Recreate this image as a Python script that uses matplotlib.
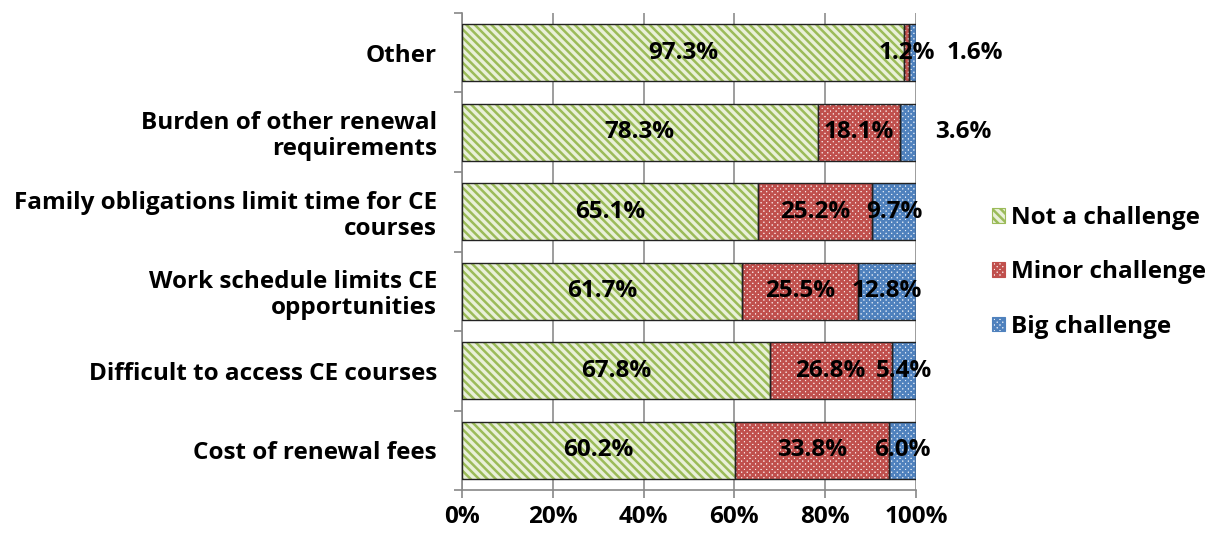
import numpy as np
import matplotlib.pyplot as plt
from matplotlib.patches import Patch

# ==========================
# Data
# ==========================
categories = [
    'Cost of renewal fees',
    'Difficult to access CE courses',
    'Work schedule limits CE\nopportunities',
    'Family obligations limit time for CE\ncourses',
    'Burden of other renewal\nrequirements',
    'Other',
]
not_a_challenge = [60.2, 67.8, 61.7, 65.1, 78.3, 97.3]
minor_challenge = [33.8, 26.8, 25.5, 25.2, 18.1, 1.2]
big_challenge = [6.0, 5.4, 12.8, 9.7, 3.6, 1.6]
series_names = ['Not a challenge', 'Minor challenge', 'Big challenge']
x_ticks = [0, 20, 40, 60, 80, 100]

# label positions moved outside the bar for tiny segments (in % units)
label_override = {(5, 2): 113.0, (4, 2): 110.5}

# ==========================
# Style
# ==========================
plt.rcParams['font.family'] = ['Open Sans', 'DejaVu Sans']
plt.rcParams['font.weight'] = 'bold'
plt.rcParams['hatch.linewidth'] = 1.8

FS = 17.5
face_colors = ['#E9F0D9', '#FBEDED', '#E8EFF8']
hatch_colors = ['#9BBB59', '#C0504D', '#4F81BD']
hatches = ['\\\\\\\\', 'xxxxxx', 'xxxxxx']


def plot_chart():
    fig = plt.figure(figsize=(12.17, 5.38), dpi=100)
    ax = fig.add_axes([0.3796, 0.089, 0.3731, 0.887])

    y = np.arange(len(categories))
    series = [not_a_challenge, minor_challenge, big_challenge]
    left = np.zeros(len(categories))
    height = 0.72

    for i, vals in enumerate(series):
        vals = np.array(vals)
        ax.barh(y, vals, left=left, height=height, color=face_colors[i],
                hatch=hatches[i], edgecolor=hatch_colors[i], linewidth=0,
                zorder=2)
        ax.barh(y, vals, left=left, height=height, fill=False,
                edgecolor='#222222', linewidth=1.0, zorder=3)
        for j, v in enumerate(vals):
            xpos = label_override.get((j, i), left[j] + v / 2)
            ax.text(xpos, y[j], f'{v:.1f}%', ha='center', va='center',
                    fontsize=FS, fontweight='bold', color='black', zorder=4)
        left += vals

    ax.set_xlim(0, 100)
    ax.set_ylim(-0.5, len(categories) - 0.5)
    ax.set_xticks(x_ticks)
    ax.set_xticklabels([f'{t}%' for t in x_ticks], fontsize=FS, fontweight='bold')
    ax.set_yticks(y)
    ax.set_yticklabels(categories, fontsize=FS, fontweight='bold', linespacing=1.1)
    ax.tick_params(axis='y', length=0, pad=18)
    ax.tick_params(axis='x', length=6, color='#888888', width=1.2, pad=5)

    # minor ticks on the y axis at category boundaries
    ax.set_yticks(np.arange(-0.5, len(categories), 1.0), minor=True)
    ax.tick_params(axis='y', which='minor', length=6, color='#888888', width=1.2)

    ax.grid(axis='x', color='#8C8C8C', linewidth=1.2, zorder=0)
    ax.set_axisbelow(True)
    for side in ['top', 'right']:
        ax.spines[side].set_visible(False)
    for side in ['left', 'bottom']:
        ax.spines[side].set_color('#888888')
        ax.spines[side].set_linewidth(1.2)

    handles = [Patch(facecolor=face_colors[i], edgecolor=hatch_colors[i],
                     hatch=hatches[i], linewidth=0.8, label=series_names[i])
               for i in range(3)]
    fig.legend(handles=handles, loc='center left',
               bbox_to_anchor=(0.797, 0.494), frameon=False,
               fontsize=FS, handlelength=0.55, handleheight=0.55,
               handletextpad=0.25, labelspacing=1.25)

    fig.savefig('out.png', dpi=100)


if __name__ == "__main__":
    plot_chart()
